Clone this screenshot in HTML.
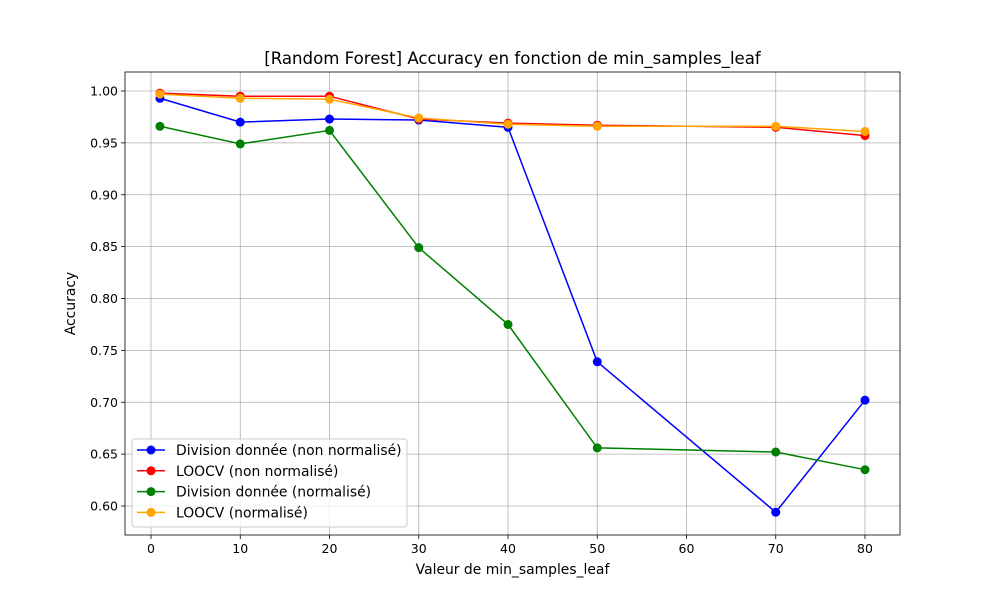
<!DOCTYPE html>
<html><head><meta charset="utf-8"><style>
body{margin:0;background:#fff;font-family:"DejaVu Sans","Liberation Sans",sans-serif;}
svg text{font-family:"DejaVu Sans","Liberation Sans",sans-serif;}
</style></head><body>
<svg id="chart" width="1000" height="600" xmlns="http://www.w3.org/2000/svg"></svg>
<script>
const xValues=[1,10,20,30,40,50,70,80];
const blueVals=[0.993,0.970,0.973,0.972,0.965,0.739,0.594,0.702];
const redVals=[0.998,0.995,0.995,0.973,0.969,0.967,0.965,0.957];
const greenVals=[0.966,0.949,0.962,0.849,0.775,0.656,0.652,0.635];
const orangeVals=[0.997,0.993,0.992,0.974,0.968,0.966,0.966,0.961];
const xTicks=[0,10,20,30,40,50,60,70,80];
const yTicks=[0.60,0.65,0.70,0.75,0.80,0.85,0.90,0.95,1.00];
const seriesNames=["Division donnée (non normalisé)","LOOCV (non normalisé)","Division donnée (normalisé)","LOOCV (normalisé)"];
const seriesColors=["#0000ff","#ff0000","#008000","#ffa500"];
const seriesData=[blueVals,redVals,greenVals,orangeVals];

const NS="http://www.w3.org/2000/svg";
const svg=document.getElementById('chart');
const L=125,R=900,T=72,B=535;
const xs=v=>151+(v-0)*(865-151)/80;
const ys=v=>91+(1.0-v)*(506-91)/0.4;
function mk(tag,attrs,parent){const e=document.createElementNS(NS,tag);for(const k in attrs)e.setAttribute(k,attrs[k]);(parent||svg).appendChild(e);return e;}

xTicks.forEach(t=>{
  const g=mk('line',{x1:xs(t),x2:xs(t),y1:T,y2:B,stroke:'#b0b0b0','stroke-width':0.8});
  
  
  mk('line',{x1:xs(t),x2:xs(t),y1:B,y2:B+4,stroke:'#000','stroke-width':0.8});
  const tx=mk('text',{x:xs(t),y:B+18,'text-anchor':'middle','font-size':12.5});
  tx.textContent=t;
  
  
});
yTicks.forEach(t=>{
  const g=mk('line',{x1:L,x2:R,y1:ys(t),y2:ys(t),stroke:'#b0b0b0','stroke-width':0.8});
  
  
  mk('line',{x1:L-4,x2:L,y1:ys(t),y2:ys(t),stroke:'#000','stroke-width':0.8});
  const tx=mk('text',{x:L-7,y:ys(t)+4.5,'text-anchor':'end','font-size':12.5});
  tx.textContent=t.toFixed(2);
  
  
});

seriesData.forEach((vals,i)=>{
  const g=mk('g',{});
  
  
  const pts=vals.map((v,j)=>xs(xValues[j])+','+ys(v)).join(' ');
  const pl=mk('polyline',{points:pts,fill:'none',stroke:seriesColors[i],'stroke-width':1.5},g);
  
  
  vals.forEach((v,j)=>{
    const c=mk('circle',{cx:xs(xValues[j]),cy:ys(v),r:4.5,fill:seriesColors[i]},g);
    
    
  });
});

const fr=mk('rect',{x:L,y:T,width:R-L,height:B-T,fill:'none',stroke:'#000','stroke-width':0.8});



const title=mk('text',{x:(L+R)/2,y:64,'text-anchor':'middle','font-size':16.6});
title.textContent='[Random Forest] Accuracy en fonction de min_samples_leaf';


const xl=mk('text',{x:(L+R)/2,y:574,'text-anchor':'middle','font-size':13.9});
xl.textContent='Valeur de min_samples_leaf';


const yl=mk('text',{x:75,y:(T+B)/2,'text-anchor':'middle','font-size':13.9,transform:'rotate(-90 75 '+((T+B)/2)+')'});
yl.textContent='Accuracy';



const lg=mk('g',{});


mk('rect',{x:132,y:439,width:275,height:88,rx:3,fill:'#fff','fill-opacity':0.8,stroke:'#ccc'},lg);
seriesNames.forEach((n,i)=>{
  const y=450+i*20.8;
  const e=mk('g',{},lg);
  
  
  mk('line',{x1:137,x2:165,y1:y,y2:y,stroke:seriesColors[i],'stroke-width':1.5},e);
  mk('circle',{cx:151,cy:y,r:4.5,fill:seriesColors[i]},e);
  const t=mk('text',{x:176,y:y+5,'font-size':13.9},e);
  t.textContent=n;
});
</script>
</body></html>
